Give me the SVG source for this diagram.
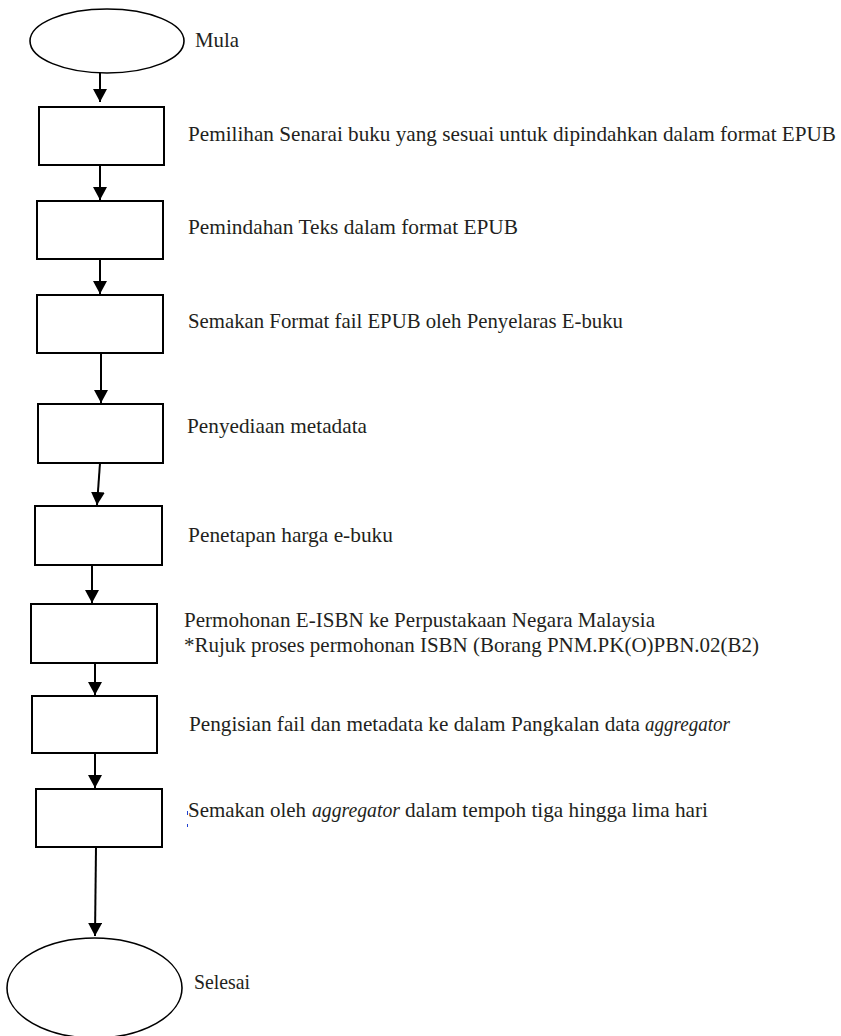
<svg xmlns="http://www.w3.org/2000/svg" width="841" height="1036" viewBox="0 0 841 1036">
  <style>
    .shape { fill: #ffffff; stroke: #000000; stroke-width: 2; }
    .term { fill: #ffffff; stroke: #000000; stroke-width: 1.6; }
    .flow { fill: none; stroke: #000000; stroke-width: 2; marker-end: url(#arrow); }
    .label { font-family: "Liberation Serif", "Times New Roman", serif; font-size: 21px; fill: #231f20; }
    .it { font-style: italic; }
  </style>
  <defs>
    <marker id="arrow" markerUnits="userSpaceOnUse" markerWidth="14" markerHeight="14" viewBox="0 0 14 14" refX="13" refY="7" orient="auto">
      <path d="M0,0 L13,7 L0,14 Z" fill="#000000"/>
    </marker>
  </defs>

  <!-- connectors -->
  <g id="connectors">
    <line class="flow" x1="100" y1="73" x2="100" y2="102"/>
    <line class="flow" x1="100" y1="165" x2="100" y2="200"/>
    <line class="flow" x1="100" y1="259" x2="100" y2="294"/>
    <line class="flow" x1="101" y1="353" x2="101" y2="403"/>
    <line class="flow" x1="100" y1="463" x2="97" y2="505"/>
    <line class="flow" x1="92" y1="565" x2="92" y2="603"/>
    <line class="flow" x1="95" y1="663" x2="95" y2="695"/>
    <line class="flow" x1="95" y1="753" x2="95" y2="788"/>
    <line class="flow" x1="96" y1="847" x2="95" y2="936"/>
  </g>

  <!-- start -->
  <g id="mula">
    <ellipse class="term" cx="107" cy="41" rx="77" ry="32"/>
    <text class="label" x="195" y="47" textLength="44" lengthAdjust="spacingAndGlyphs">Mula</text>
  </g>

  <g id="pemilihan">
    <rect class="shape" x="39" y="107" width="125" height="58"/>
    <text class="label" x="188" y="141" textLength="648" lengthAdjust="spacingAndGlyphs">Pemilihan Senarai buku yang sesuai untuk dipindahkan dalam format EPUB</text>
  </g>

  <g id="pemindahan">
    <rect class="shape" x="37" y="201" width="126" height="58"/>
    <text class="label" x="188" y="234" textLength="330" lengthAdjust="spacingAndGlyphs">Pemindahan Teks dalam format EPUB</text>
  </g>

  <g id="semakan-format">
    <rect class="shape" x="37" y="295" width="126" height="58"/>
    <text class="label" x="188" y="328" textLength="435" lengthAdjust="spacingAndGlyphs">Semakan Format fail EPUB oleh Penyelaras E-buku</text>
  </g>

  <g id="penyediaan">
    <rect class="shape" x="38" y="404" width="125" height="59"/>
    <text class="label" x="187" y="433" textLength="180" lengthAdjust="spacingAndGlyphs">Penyediaan metadata</text>
  </g>

  <g id="penetapan">
    <rect class="shape" x="35" y="506" width="127" height="59"/>
    <text class="label" x="188" y="542" textLength="205" lengthAdjust="spacingAndGlyphs">Penetapan harga e-buku</text>
  </g>

  <g id="permohonan">
    <rect class="shape" x="31" y="604" width="126" height="59"/>
    <text class="label" x="184" y="627" textLength="471" lengthAdjust="spacingAndGlyphs">Permohonan E-ISBN ke Perpustakaan Negara Malaysia</text>
    <text class="label" x="184" y="652" textLength="575" lengthAdjust="spacingAndGlyphs">*Rujuk proses permohonan ISBN (Borang PNM.PK(O)PBN.02(B2)</text>
  </g>

  <g id="pengisian">
    <rect class="shape" x="32" y="696" width="125" height="57"/>
    <text class="label" x="189" y="731" textLength="451" lengthAdjust="spacingAndGlyphs">Pengisian fail dan metadata ke dalam Pangkalan data</text>
    <text class="label it" x="645" y="731" textLength="85" lengthAdjust="spacingAndGlyphs">aggregator</text>
  </g>

  <g id="semakan-aggregator">
    <rect class="shape" x="36" y="789" width="126" height="58"/>
    <text class="label" x="188" y="817" textLength="118" lengthAdjust="spacingAndGlyphs">Semakan oleh</text>
    <text class="label it" x="312" y="817" textLength="88" lengthAdjust="spacingAndGlyphs">aggregator</text>
    <text class="label" x="405" y="817" textLength="303" lengthAdjust="spacingAndGlyphs">dalam tempoh tiga hingga lima hari</text>
    <!-- stray edit cursor mark -->
    <rect x="187" y="811" width="1" height="4" fill="#1f3fd0"/>
    <rect x="187" y="824" width="1" height="3" fill="#1f3fd0"/>
  </g>

  <!-- end -->
  <g id="selesai">
    <ellipse class="term" cx="94.5" cy="988" rx="87.5" ry="50"/>
    <text class="label" x="194" y="989" textLength="56" lengthAdjust="spacingAndGlyphs">Selesai</text>
  </g>
</svg>
